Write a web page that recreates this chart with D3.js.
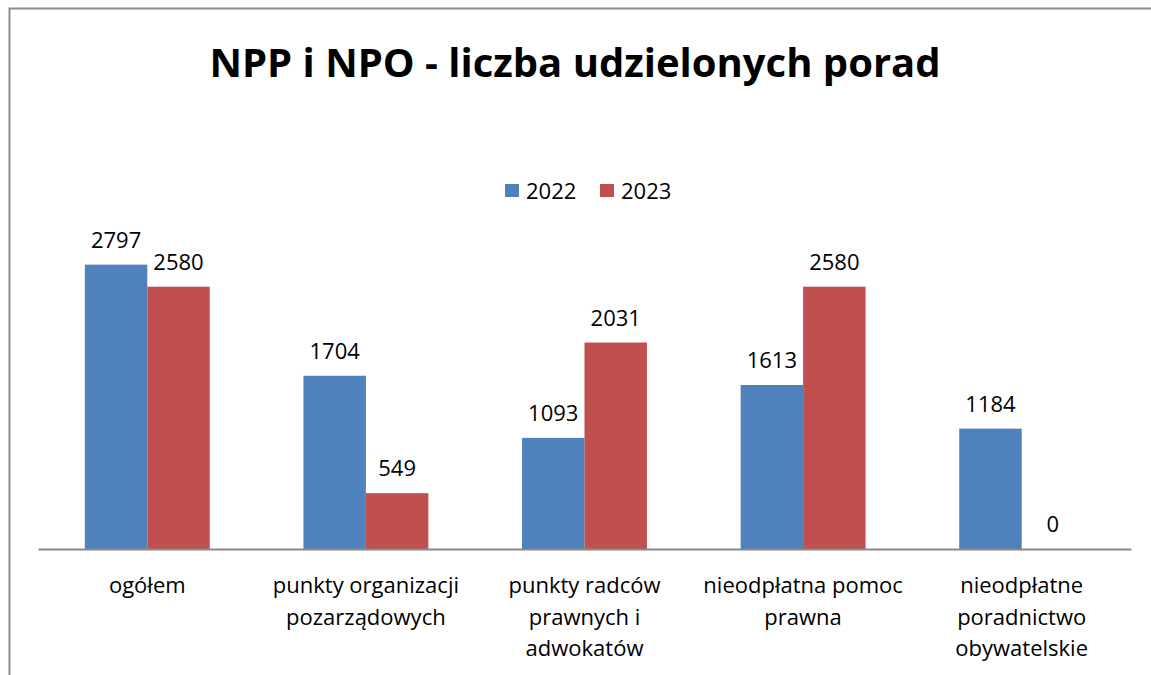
<!DOCTYPE html>
<html lang="pl">
<head>
<meta charset="UTF-8">
<title>NPP i NPO - liczba udzielonych porad</title>
<style>
    body, html { margin: 0; padding: 0; background: #fff; overflow: hidden; }
    text { font-family: "Open Sans", sans-serif; fill: #000; }
</style>
</head>
<body>
<script src="https://d3js.org/d3.v7.min.js"></script>
<script>
    const categories = [
        ["ogółem"],
        ["punkty organizacji", "pozarządowych"],
        ["punkty radców", "prawnych i", "adwokatów"],
        ["nieodpłatna pomoc", "prawna"],
        ["nieodpłatne", "poradnictwo", "obywatelskie"]
    ];
    const seriesNames = ["2022", "2023"];
    const values2022 = [2797, 1704, 1093, 1613, 1184];
    const values2023 = [2580, 549, 2031, 2580, 0];
    const colors = ["#4F81BD", "#C0504D"];

    const width = 1151, height = 675;
    const plot = { left: 38, right: 1131, top: 244, bottom: 549 };

    const svg = d3.select("body").append("svg")
        .attr("width", width)
        .attr("height", height);

    // chart frame (left and top edges visible)
    svg.append("path")
        .attr("d", `M9.5,${height}V8.5H${width}`)
        .attr("fill", "none")
        .attr("stroke", "#8c8c8c")
        .attr("stroke-width", 2);

    svg.append("text")
        .attr("x", 575)
        .attr("y", 77)
        .attr("text-anchor", "middle")
        .attr("font-size", 40)
        .attr("font-weight", "bold")
        .text("NPP i NPO - liczba udzielonych porad");

    const x0 = d3.scaleBand()
        .domain(d3.range(categories.length))
        .range([plot.left, plot.right]);

    const barW = x0.bandwidth() / (2 + 1.5);
    const x1 = d3.scaleBand()
        .domain([0, 1])
        .range([0, barW * 2]);

    const y = d3.scaleLinear()
        .domain([0, 3000])
        .range([plot.bottom, plot.top]);

    const rows = categories.map((c, i) => ({ i, vals: [values2022[i], values2023[i]] }));

    const groups = svg.selectAll(".grp")
        .data(rows)
        .enter().append("g")
        .attr("transform", d => `translate(${x0(d.i) + (x0.bandwidth() - barW * 2) / 2},0)`);

    groups.selectAll("rect")
        .data(d => d.vals.map((v, s) => ({ v, s })))
        .enter().append("rect")
        .attr("x", d => x1(d.s))
        .attr("y", d => y(d.v))
        .attr("width", x1.bandwidth())
        .attr("height", d => y(0) - y(d.v))
        .attr("fill", d => colors[d.s]);

    groups.selectAll(".lbl")
        .data(d => d.vals.map((v, s) => ({ v, s })))
        .enter().append("text")
        .attr("class", "lbl")
        .attr("x", d => x1(d.s) + x1.bandwidth() / 2)
        .attr("y", d => y(d.v) - 17)
        .attr("text-anchor", "middle")
        .attr("font-size", 22)
        .text(d => d.v);

    // x axis
    const xAxis = svg.append("g")
        .attr("transform", `translate(0,${plot.bottom})`)
        .call(d3.axisBottom(x0).tickSize(0).tickFormat(""));
    xAxis.select(".domain").attr("stroke", "#898989").attr("stroke-width", 2);

    svg.selectAll(".cat")
        .data(categories)
        .enter().append("text")
        .attr("class", "cat")
        .attr("text-anchor", "middle")
        .attr("font-size", 22)
        .each(function (lines, i) {
            d3.select(this).selectAll("tspan")
                .data(lines)
                .enter().append("tspan")
                .attr("x", x0(i) + x0.bandwidth() / 2)
                .attr("y", (l, k) => 593 + k * 31.5)
                .text(l => l);
        });

    // legend
    const legendX = [505, 600];
    const legend = svg.selectAll(".leg")
        .data(seriesNames)
        .enter().append("g")
        .attr("transform", (d, i) => `translate(${legendX[i]},184)`);
    legend.append("rect")
        .attr("width", 14)
        .attr("height", 13)
        .attr("fill", (d, i) => colors[i]);
    legend.append("text")
        .attr("x", 21)
        .attr("y", 15)
        .attr("font-size", 22)
        .text(d => d);
</script>
</body>
</html>
